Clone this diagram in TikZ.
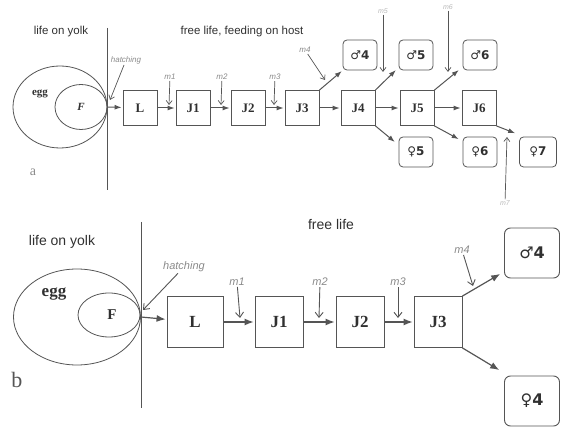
\documentclass[tikz,border=0pt]{standalone}
\usepackage{fontspec}
\setmainfont{Liberation Serif}
\setsansfont{Liberation Sans}
\newfontfamily\symf{DejaVu Sans}
\usetikzlibrary{arrows.meta,shapes.geometric}
\definecolor{ln}{HTML}{555555}
\definecolor{tx}{HTML}{303030}
\definecolor{lt}{HTML}{8A8A8A}
\begin{document}
\begin{tikzpicture}[x=1pt,y=-1pt,
  every node/.style={text=tx},
  boxa/.style={draw=ln,line width=0.8pt,minimum width=34pt,minimum height=35pt,inner sep=0,font=\fontsize{13}{13}\selectfont\bfseries},
  rboxa/.style={boxa,rounded corners=4pt,minimum height=30pt,font=\symf\fontsize{12}{12}\selectfont\bfseries},
  boxb/.style={draw=ln,line width=0.9pt,minimum width=48pt,minimum height=51pt,inner sep=0,font=\fontsize{17}{17}\selectfont\bfseries},
  rboxb/.style={boxb,rounded corners=6pt,minimum width=55pt,minimum height=50pt,font=\symf\fontsize{16}{16}\selectfont\bfseries},
  arra/.style={draw=ln,line width=1pt,-{Latex[length=7pt,width=5pt]},shorten >=1pt},
  arrb/.style={draw=ln,line width=1.2pt,-{Latex[length=9pt,width=7pt]},shorten >=1pt},
  barba/.style={draw=ln,line width=0.7pt,-{Straight Barb[length=4pt,width=6pt]}},
  barbb/.style={draw=ln,line width=0.9pt,-{Straight Barb[length=5pt,width=8pt]}},
  heada/.style={font=\sffamily\fontsize{11.5}{12}\selectfont},
  headb/.style={font=\sffamily\fontsize{14}{15}\selectfont},
  mlaba/.style={text=lt,font=\sffamily\itshape\fontsize{8}{8}\selectfont,inner sep=1pt},
  mlabb/.style={text=lt,font=\sffamily\itshape\fontsize{11}{11}\selectfont,inner sep=1pt},
  faint/.style={text=lt!60,font=\sffamily\itshape\fontsize{7}{7}\selectfont,inner sep=1pt},
  ell/.style={draw=ln,line width=0.8pt,ellipse,inner sep=0}
]
\useasboundingbox (0,0) rectangle (563,427);

% ===== panel a =====
\node[heada] (yolkA) at (61,32) {life on yolk};
\node[heada] (freeA) at (242,32) {free life, feeding on host};
\coordinate (vaT) at (107,28);
\coordinate (vaB) at (107,190);
\draw[ln,line width=0.8pt] (vaT) -- (vaB);
\node[ell,minimum width=94pt,minimum height=82pt] (eggA) at (60,107) {};
\node[ell,minimum width=52pt,minimum height=45pt,font=\fontsize{11}{11}\selectfont\bfseries\itshape] (FA) at (81,107) {F};
\node[font=\fontsize{11}{11}\selectfont\bfseries] (eggtA) at (40,94) {egg};
\node[text=lt,font=\fontsize{14}{14}\selectfont] (labA) at (33,172) {a};

\node[boxa] (LA) at (140,108) {L};
\node[boxa] (J1A) at (193,108) {J1};
\node[boxa] (J2A) at (248,108) {J2};
\node[boxa] (J3A) at (302,108) {J3};
\node[boxa] (J4A) at (358,108) {J4};
\node[boxa] (J5A) at (417,108) {J5};
\node[boxa] (J6A) at (479,108) {J6};
\node[rboxa] (M4A) at (360,55) {♂4};
\node[rboxa] (M5A) at (416,55) {♂5};
\node[rboxa] (M6A) at (480,55) {♂6};
\node[rboxa] (F5A) at (416,152) {♀5};
\node[rboxa] (F6A) at (480,152) {♀6};
\node[rboxa,minimum width=37pt] (F7A) at (538,152) {♀7};

\draw[arra] (eggA.east) -- (LA);
\draw[arra] (LA) -- (J1A);
\draw[arra] (J1A) -- (J2A);
\draw[arra] (J2A) -- (J3A);
\draw[arra] (J3A) -- (J4A);
\draw[arra] (J4A) -- (J5A);
\draw[arra] (J5A) -- (J6A);
\draw[arra] (J3A.north east) -- (M4A.south west);
\draw[arra] (J4A.north east) -- ([xshift=-2pt,yshift=1pt]M5A.south west);
\draw[arra] (J4A.south east) -- ([xshift=-3pt,yshift=-6pt]F5A.north west);
\draw[arra] (J5A.north east) -- ([xshift=-3pt,yshift=1pt]M6A.south west);
\draw[arra] (J5A.south east) -- ([xshift=-3pt,yshift=-3pt]F6A.north west);
\draw[arra] (J6A.south east) -- ([xshift=-3pt,yshift=3pt]F7A.north west);

\node[mlaba] (hatA) at (126,60) {hatching};
\coordinate (hatAe) at (110,100);
\draw[barba] (hatA) -- (hatAe);
\node[mlaba] (m1A) at (170,77) {m1};
\coordinate (m1Ae) at (169,105);
\draw[barba] (m1A) -- (m1Ae);
\node[mlaba] (m2A) at (222,77) {m2};
\coordinate (m2Ae) at (221,105);
\draw[barba] (m2A) -- (m2Ae);
\node[mlaba] (m3A) at (275,77) {m3};
\coordinate (m3Ae) at (274,105);
\draw[barba] (m3A) -- (m3Ae);
\node[mlaba] (m4A) at (305,50) {m4};
\coordinate (m4Ae) at (325,80);
\draw[barba] (m4A) -- (m4Ae);
\node[faint] (m5A) at (383,11) {m5};
\coordinate (m5Ae) at (383,72);
\draw[barba] (m5A) -- (m5Ae);
\node[faint] (m6A) at (448,7) {m6};
\coordinate (m6Ae) at (448,72);
\draw[barba] (m6A) -- (m6Ae);
\node[faint] (m7A) at (505,203) {m7};
\coordinate (m7Ae) at (507,137);
\draw[barba] (m7A) -- (m7Ae);

% ===== panel b =====
\node[headb] (yolkB) at (62,242) {life on yolk};
\node[headb] (freeB) at (331,224) {free life};
\coordinate (vbT) at (141,222);
\coordinate (vbB) at (141,408);
\draw[ln,line width=0.9pt] (vbT) -- (vbB);
\node[ell,minimum width=127pt,minimum height=96pt] (eggB) at (77,317) {};
\node[ell,minimum width=62pt,minimum height=44pt,font=\fontsize{15}{15}\selectfont\bfseries] (FB) at (109,315) {\hspace*{6pt}F};
\node[font=\fontsize{17}{17}\selectfont\bfseries] (eggtB) at (54,294) {egg};
\node[text=ln,font=\fontsize{22}{22}\selectfont] (labB) at (17,380) {b};

\node[boxb,minimum width=56pt] (LB) at (195,322) {L};
\node[boxb] (J1B) at (279,322) {J1};
\node[boxb] (J2B) at (360,322) {J2};
\node[boxb] (J3B) at (438,322) {J3};
\node[rboxb] (M4B) at (532,253) {♂4};
\node[rboxb] (F4B) at (532,401) {♀4};

\draw[arrb] (eggB.east) -- (LB);
\draw[arrb] (LB) -- (J1B);
\draw[arrb] (J1B) -- (J2B);
\draw[arrb] (J2B) -- (J3B);
\draw[arrb] (J3B.north east) -- ([xshift=-3pt,yshift=5pt]M4B.south west);
\draw[arrb] (J3B.south east) -- ([xshift=-4pt,yshift=5pt]F4B.north west);

\node[mlabb] (hatB) at (184,267) {hatching};
\coordinate (hatBe) at (143,310);
\draw[barbb] (hatB) -- (hatBe);
\node[mlabb] (m1B) at (237,282) {m1};
\coordinate (m1Be) at (240,318);
\draw[barbb] (m1B) -- (m1Be);
\node[mlabb] (m2B) at (320,282) {m2};
\coordinate (m2Be) at (319,318);
\draw[barbb] (m2B) -- (m2Be);
\node[mlabb] (m3B) at (398,282) {m3};
\coordinate (m3Be) at (398,318);
\draw[barbb] (m3B) -- (m3Be);
\node[mlabb] (m4B) at (462,250) {m4};
\coordinate (m4Be) at (473,286);
\draw[barbb] (m4B) -- (m4Be);
\end{tikzpicture}
\end{document}
